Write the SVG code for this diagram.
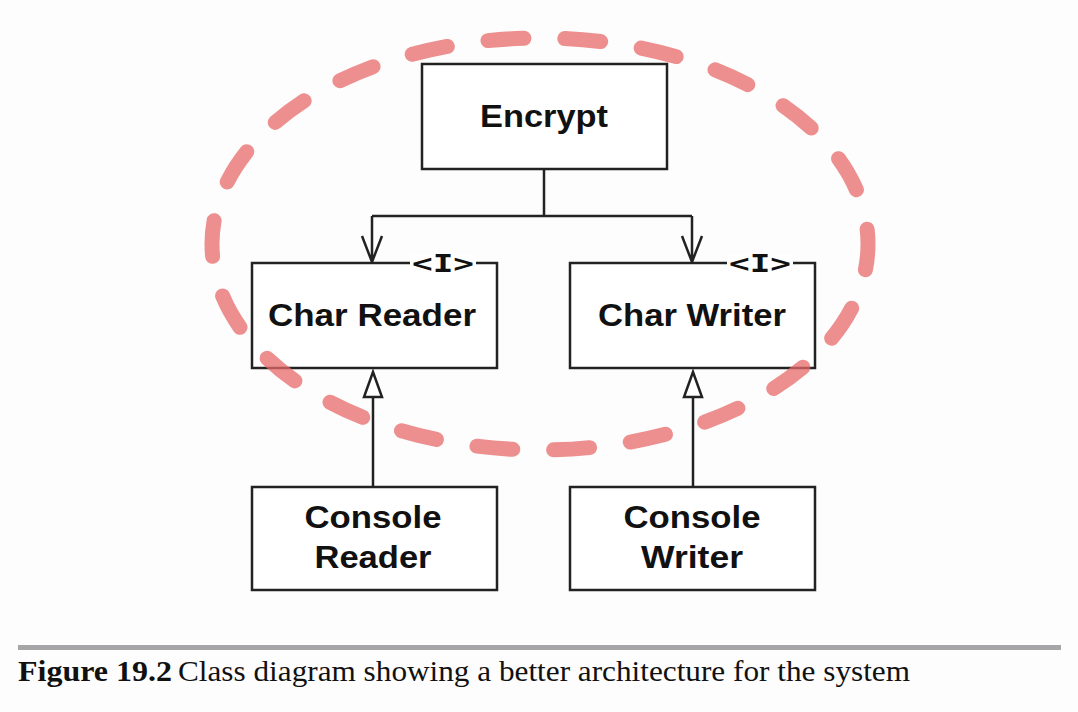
<svg xmlns="http://www.w3.org/2000/svg" width="1078" height="712" viewBox="0 0 1078 712">
<style>
.box{fill:#fff;stroke:#222;stroke-width:2.5}
.lbl{font-family:"Liberation Sans",Arial,sans-serif;font-weight:bold;font-size:31px;fill:#111;text-anchor:middle}
.iface{font-family:"DejaVu Sans Mono","Liberation Mono",monospace;font-weight:bold;font-size:24px;fill:#111}
.ln{fill:none;stroke:#222;stroke-width:2.5}
.cap{font-family:"Liberation Serif","Times New Roman",serif;font-size:30px;fill:#111}
</style>
<rect width="1078" height="712" fill="#fdfdfd"/>
<g id="connectors">
<path class="ln" d="M544,169 V216 M372,216 H692"/>
<path class="ln" d="M372,216 V262 M362,236 L372,262 L382,236"/>
<path class="ln" d="M692,216 V262 M682,236 L692,262 L702,236"/>
<path class="ln" d="M373,487 V397"/>
<path class="ln" d="M693,487 V397"/>
<polygon points="373,372 364,397 382,397" fill="#fff" stroke="#222" stroke-width="2.5"/>
<polygon points="693,372 684,397 702,397" fill="#fff" stroke="#222" stroke-width="2.5"/>
</g>
<g id="encrypt">
<rect class="box" x="422" y="64" width="245" height="105"/>
<text class="lbl" x="544" y="127" textLength="128" lengthAdjust="spacingAndGlyphs">Encrypt</text>
</g>
<g id="char-reader">
<rect class="box" x="252" y="263" width="245" height="105"/>
<rect x="410" y="255" width="66" height="16" fill="#fff"/>
<text class="iface" x="412" y="272" textLength="62" lengthAdjust="spacingAndGlyphs">&lt;I&gt;</text>
<text class="lbl" x="372" y="326" textLength="208" lengthAdjust="spacingAndGlyphs">Char Reader</text>
</g>
<g id="char-writer">
<rect class="box" x="570" y="263" width="245" height="105"/>
<rect x="727" y="255" width="66" height="16" fill="#fff"/>
<text class="iface" x="729" y="272" textLength="62" lengthAdjust="spacingAndGlyphs">&lt;I&gt;</text>
<text class="lbl" x="692" y="326" textLength="188" lengthAdjust="spacingAndGlyphs">Char Writer</text>
</g>
<g id="console-reader">
<rect class="box" x="252" y="487" width="245" height="103"/>
<text class="lbl" x="373" y="528" textLength="137" lengthAdjust="spacingAndGlyphs">Console</text>
<text class="lbl" x="373" y="568" textLength="117" lengthAdjust="spacingAndGlyphs">Reader</text>
</g>
<g id="console-writer">
<rect class="box" x="570" y="487" width="245" height="103"/>
<text class="lbl" x="692" y="528" textLength="137" lengthAdjust="spacingAndGlyphs">Console</text>
<text class="lbl" x="692" y="568" textLength="102" lengthAdjust="spacingAndGlyphs">Writer</text>
</g>
<g id="boundary">
<ellipse cx="540" cy="244" rx="328" ry="206" fill="none" stroke="#e86a6a" stroke-opacity="0.75" stroke-width="15" stroke-linecap="round" stroke-dasharray="36 41" stroke-dashoffset="10"/>
</g>
<g id="caption">
<rect x="18" y="645" width="1043" height="5" fill="#a6a6a9"/>
<text class="cap" x="18" y="681" font-weight="bold" textLength="154" lengthAdjust="spacingAndGlyphs">Figure 19.2</text>
<text class="cap" x="178" y="681" textLength="732" lengthAdjust="spacingAndGlyphs">Class diagram showing a better architecture for the system</text>
</g>
</svg>
